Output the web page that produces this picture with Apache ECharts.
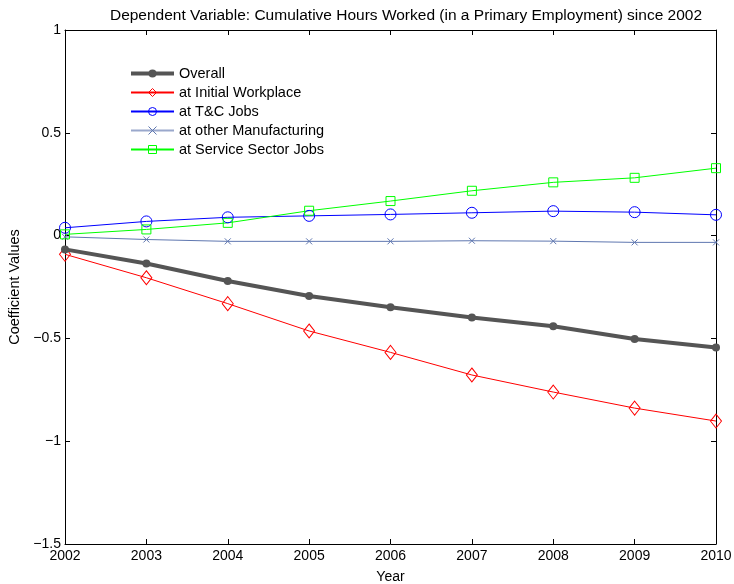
<!DOCTYPE html>
<html>
<head>
<meta charset="utf-8">
<script src="https://cdn.jsdelivr.net/npm/echarts@6/dist/echarts.min.js"></script>
<style>
html,body{margin:0;padding:0;background:#fff;}
#chart{width:734px;height:584px;}
</style>
</head>
<body>
<div id="chart"></div>
<script>
// Years on the x axis
const years = [2002, 2003, 2004, 2005, 2006, 2007, 2008, 2009, 2010];

// Coefficient estimates per year
const overall       = [-0.067, -0.136, -0.221, -0.294, -0.348, -0.398, -0.441, -0.503, -0.544];
const initialWork   = [-0.091, -0.205, -0.331, -0.464, -0.568, -0.678, -0.761, -0.839, -0.902];
const tcJobs        = [0.038, 0.069, 0.089, 0.096, 0.103, 0.111, 0.119, 0.114, 0.101];
const otherManuf    = [-0.006, -0.019, -0.028, -0.028, -0.028, -0.025, -0.027, -0.033, -0.033];
const serviceJobs   = [0.006, 0.030, 0.062, 0.121, 0.168, 0.218, 0.259, 0.281, 0.328];

const yTicks = [-1.5, -1, -0.5, 0, 0.5, 1];

const FONT = 'Liberation Sans, Arial, Helvetica, sans-serif';
const pairs = arr => arr.map((v, i) => [years[i], v]);
const fmtY = v => {
  const s = String(Math.abs(v));
  return v < 0 ? '\u2212' + s : s;
};

const GRAY = '#555555', RED = '#ff0000', BLUE = '#0000ff', STEEL = '#5f77b0', GREEN = '#00ff00';
const CROSS = 'path://M0,0L10,10M10,0L0,10';

const chart = echarts.init(document.getElementById('chart'), null, {renderer: 'canvas'});

const boxLine = {show: true, onZero: false, lineStyle: {color: '#000', width: 1}};
const inTick = {show: true, inside: true, length: 5, lineStyle: {color: '#000'}};

const option = {
  backgroundColor: '#fff',
  animation: false,
  title: {
    text: 'Dependent Variable: Cumulative Hours Worked (in a Primary Employment) since 2002',
    left: 401, top: 3, textAlign: 'center',
    textStyle: {fontFamily: FONT, fontSize: 15.5, fontWeight: 'normal', color: '#000'}
  },
  grid: {left: 65, right: 18, top: 30, bottom: 40, containLabel: false, outerBoundsMode: 'none'},
  legend: {
    orient: 'vertical',
    left: 124, top: 61,
    padding: 5,
    itemWidth: 43, itemHeight: 10, itemGap: 4,
    textStyle: {fontFamily: FONT, fontSize: 14.5, color: '#000'},
    data: [
      {name: 'Overall', lineStyle: {width: 4, color: GRAY}, itemStyle: {color: GRAY}},
      {name: 'at Initial Workplace', itemStyle: {color: 'transparent', borderColor: RED, borderWidth: 1}},
      {name: 'at T&C Jobs', itemStyle: {color: 'transparent', borderColor: BLUE, borderWidth: 1}},
      {name: 'at other Manufacturing', lineStyle: {width: 2, color: '#9aa8cc'}, itemStyle: {color: 'transparent', borderColor: STEEL, borderWidth: 1}},
      {name: 'at Service Sector Jobs', itemStyle: {color: 'transparent', borderColor: GREEN, borderWidth: 1}}
    ]
  },
  xAxis: [{
    type: 'value', min: 2002, max: 2010, interval: 1,
    name: 'Year', nameLocation: 'middle', nameGap: 26,
    nameTextStyle: {fontFamily: FONT, fontSize: 14, color: '#000'},
    axisLine: boxLine, axisTick: inTick,
    axisLabel: {fontFamily: FONT, fontSize: 14, color: '#000', margin: 5, formatter: v => String(v)},
    splitLine: {show: false}
  }, {
    type: 'value', min: 2002, max: 2010, interval: 1, position: 'top',
    axisLine: boxLine, axisTick: inTick,
    axisLabel: {show: false}, splitLine: {show: false}
  }],
  yAxis: [{
    type: 'value', min: -1.5, max: 1, interval: 0.5,
    name: 'Coefficient Values', nameLocation: 'middle', nameGap: 34,
    nameTextStyle: {fontFamily: FONT, fontSize: 14.5, color: '#000'},
    axisLine: boxLine, axisTick: inTick,
    axisLabel: {fontFamily: FONT, fontSize: 14, color: '#000', margin: 4,
      formatter: v => yTicks.includes(v) ? fmtY(v) : ''},
    splitLine: {show: false}
  }, {
    type: 'value', min: -1.5, max: 1, interval: 0.5, position: 'right',
    axisLine: boxLine, axisTick: inTick,
    axisLabel: {show: false}, splitLine: {show: false}
  }],
  series: [
    {
      name: 'Overall', type: 'line', data: pairs(overall),
      symbol: 'circle', symbolSize: 8,
      lineStyle: {color: GRAY, width: 4},
      itemStyle: {color: GRAY}, z: 5
    },
    {
      name: 'at Initial Workplace', type: 'line', data: pairs(initialWork),
      symbol: 'diamond', symbolSize: [11, 14],
      lineStyle: {color: RED, width: 1},
      itemStyle: {color: 'transparent', borderColor: RED, borderWidth: 1}
    },
    {
      name: 'at T&C Jobs', type: 'line', data: pairs(tcJobs),
      symbol: 'circle', symbolSize: 11,
      lineStyle: {color: BLUE, width: 1},
      itemStyle: {color: 'transparent', borderColor: BLUE, borderWidth: 1}
    },
    {
      name: 'at other Manufacturing', type: 'line', data: pairs(otherManuf),
      symbol: CROSS, symbolSize: 6,
      lineStyle: {color: STEEL, width: 1},
      itemStyle: {color: 'transparent', borderColor: STEEL, borderWidth: 1}
    },
    {
      name: 'at Service Sector Jobs', type: 'line', data: pairs(serviceJobs),
      symbol: 'rect', symbolSize: 9,
      lineStyle: {color: GREEN, width: 1},
      itemStyle: {color: 'transparent', borderColor: GREEN, borderWidth: 1}
    }
  ]
};

chart.setOption(option);
</script>
</body>
</html>
